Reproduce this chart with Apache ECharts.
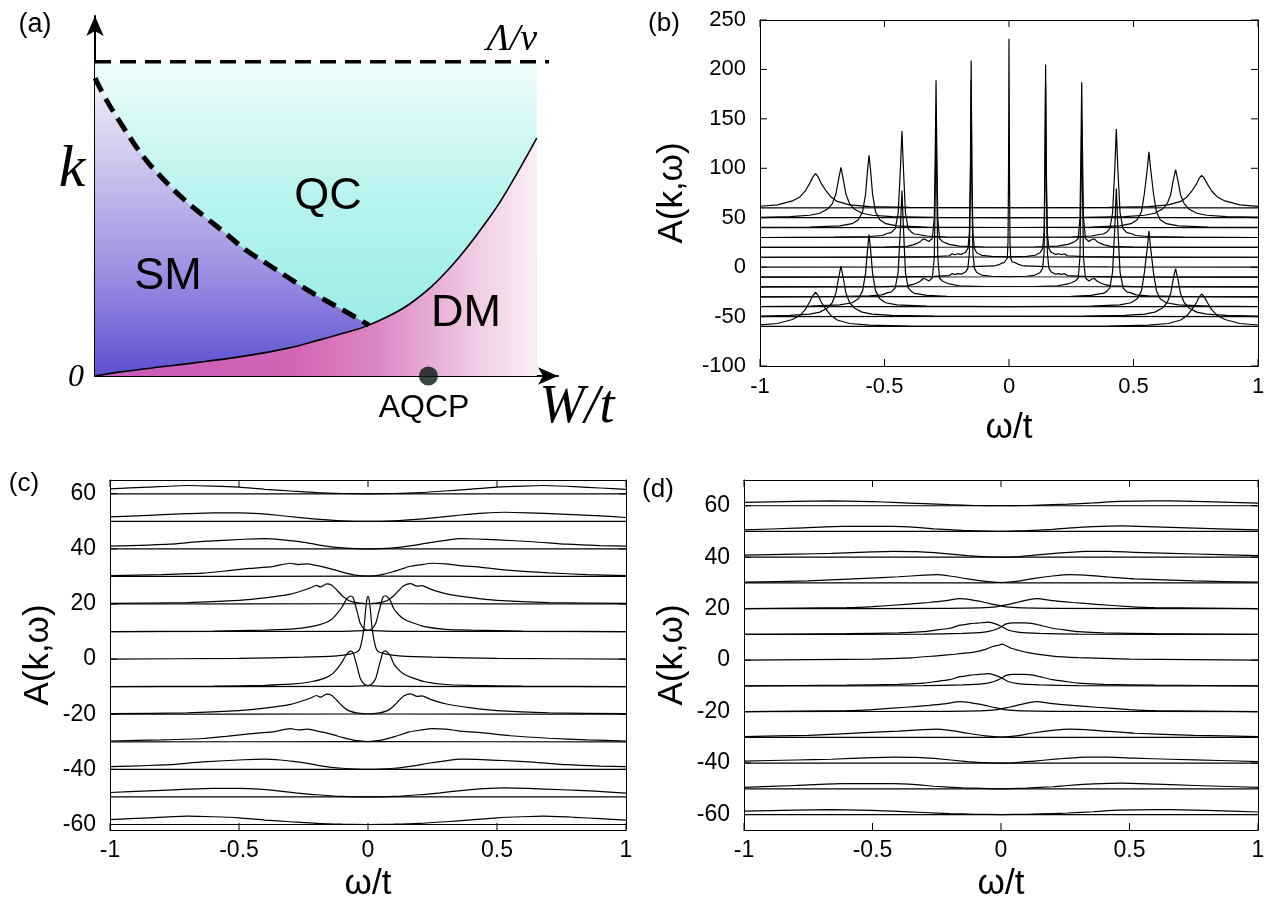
<!DOCTYPE html>
<html>
<head>
<meta charset="utf-8">
<script src="https://cdn.jsdelivr.net/npm/echarts@6/dist/echarts.min.js"></script>
<style>
html, body { margin: 0; padding: 0; background: #fff; }
#chart { width: 1271px; height: 907px; }
</style>
</head>
<body>
<div id="chart"></div>
<script>
const chart = echarts.init(document.getElementById('chart'));

// ---- (a) phase diagram: W/t along x, k along y (cutoff Lambda/v = 1) ----
const crossoverW = [0, 0.024, 0.059, 0.102, 0.146, 0.189, 0.232, 0.276, 0.319, 0.362, 0.406, 0.449, 0.492, 0.536, 0.579];
const crossoverK = [0.948, 0.879, 0.794, 0.699, 0.624, 0.561, 0.507, 0.454, 0.401, 0.359, 0.316, 0.274, 0.237, 0.2, 0.162];
const transitionW = [0, 0.059, 0.146, 0.232, 0.319, 0.406, 0.475, 0.536, 0.579, 0.666, 0.752, 0.839, 0.882, 0.934];
const transitionK = [0, 0.014, 0.03, 0.046, 0.064, 0.088, 0.115, 0.141, 0.162, 0.23, 0.347, 0.515, 0.618, 0.757];
const cutoffW = [0, 0.96];
const regionEndW = 0.934;
const aqcpW = 0.705;

// ---- waterfall offsets, shared by (b), (c), (d) ----
const offsets = [60, 50, 40, 30, 20, 10, 0, -10, -20, -30, -40, -50, -60];

// ---- (b) clean system: [omega/t, A] for |k| index 0..6 ----
const bK0 = [[-1,0],[-0.4,0.2],[-0.15,0.5],[-0.06,1.2],[-0.04,2.5],[-0.03,4],[-0.02,4.5],[-0.012,5.5],[-0.007,9],[-0.004,25],[-0.002,90],[0,231],[0.002,90],[0.004,25],[0.007,9],[0.012,5.5],[0.02,4.5],[0.03,4],[0.04,2.5],[0.06,1.2],[0.15,0.5],[0.4,0.2],[1,0]];
const bLow1 = [[-1,0],[-0.45,0.2],[-0.3,0.6],[-0.24,1.5],[-0.228,3.5],[-0.218,2.5],[-0.205,3.5],[-0.19,3],[-0.175,5],[-0.165,9],[-0.159,25],[-0.155,90],[-0.152,199],[-0.149,90],[-0.145,25],[-0.139,9],[-0.13,4.5],[-0.11,2],[-0.07,0.8],[0,0.3],[1,0]];
const bHigh1 = [[-1,0],[0,0.3],[0.072,0.8],[0.105,2],[0.125,4.5],[0.135,9],[0.141,25],[0.144,90],[0.147,195],[0.15,90],[0.154,25],[0.16,9],[0.17,5],[0.185,3],[0.2,3.5],[0.212,2.5],[0.222,3.5],[0.235,1.5],[0.3,0.6],[0.45,0.2],[1,0]];
const bLow2 = [[-1,0],[-0.5,0.3],[-0.41,1],[-0.385,2.5],[-0.37,4],[-0.355,6],[-0.345,8.5],[-0.335,8],[-0.322,6],[-0.308,9],[-0.3,30],[-0.296,100],[-0.293,169],[-0.29,100],[-0.286,30],[-0.279,9],[-0.268,6],[-0.255,4.5],[-0.24,3],[-0.2,1.2],[-0.1,0.4],[1,0]];
const bHigh2 = [[-1,0],[0.1,0.4],[0.195,1.2],[0.237,3],[0.252,4.5],[0.266,6],[0.278,9],[0.285,30],[0.289,100],[0.292,167],[0.295,100],[0.299,30],[0.307,9],[0.321,6],[0.333,8],[0.343,8.5],[0.353,6],[0.368,4],[0.383,2.5],[0.408,1],[0.5,0.3],[1,0]];
const bLow3 = [[-1,0],[-0.7,0.3],[-0.56,1],[-0.51,2],[-0.49,4],[-0.473,5],[-0.457,9],[-0.445,25],[-0.436,70],[-0.43,107.6],[-0.424,70],[-0.416,25],[-0.405,9],[-0.39,5],[-0.38,3.5],[-0.365,3],[-0.33,1.5],[-0.25,0.5],[1,0]];
const bHigh3 = [[-1,0],[0.25,0.5],[0.33,1.5],[0.362,3],[0.378,3.5],[0.39,5],[0.405,9],[0.416,25],[0.425,70],[0.431,109.6],[0.437,70],[0.446,25],[0.458,9],[0.473,5],[0.49,4],[0.51,2],[0.56,1],[0.7,0.3],[1,0]];
const bLow4 = [[-1,0.2],[-0.8,0.6],[-0.68,1.8],[-0.63,4],[-0.605,8],[-0.588,16],[-0.576,34],[-0.568,58],[-0.562,73],[-0.556,58],[-0.548,34],[-0.536,16],[-0.519,8],[-0.495,4],[-0.45,1.8],[-0.33,0.5],[0,0.1],[1,0]];
const bHigh4 = [[-1,0],[0,0.1],[0.33,0.5],[0.445,1.8],[0.49,4],[0.515,8],[0.532,16],[0.544,35],[0.556,61],[0.562,76.6],[0.568,61],[0.58,35],[0.592,16],[0.607,8],[0.632,4],[0.68,1.8],[0.8,0.6],[1,0.2]];
const bLow5 = [[-1,0.4],[-0.88,1.2],[-0.8,2.5],[-0.76,4.5],[-0.73,8.5],[-0.71,14],[-0.695,24],[-0.685,38],[-0.675,51],[-0.665,38],[-0.655,24],[-0.64,14],[-0.62,8.5],[-0.59,4.5],[-0.55,2.5],[-0.47,1.2],[-0.3,0.4],[0,0.1],[1,0]];
const bHigh5 = [[-1,0],[0,0.1],[0.3,0.4],[0.465,1.2],[0.545,2.5],[0.585,4.5],[0.615,8.5],[0.635,14],[0.649,23],[0.659,37],[0.669,48.6],[0.679,37],[0.689,23],[0.704,14],[0.724,8.5],[0.754,4.5],[0.794,2.5],[0.874,1.2],[1,0.5]];
const bLow6 = [[-1,1.6],[-0.93,3],[-0.87,7],[-0.84,11],[-0.817,17.5],[-0.8,25],[-0.787,31.5],[-0.777,34.6],[-0.767,31.5],[-0.755,25],[-0.737,18],[-0.715,11],[-0.69,6.5],[-0.64,3],[-0.56,1.3],[-0.4,0.4],[0,0.1],[1,0]];
const bHigh6 = [[-1,0],[0,0.1],[0.4,0.4],[0.56,1.3],[0.64,3],[0.69,6.5],[0.715,11],[0.737,18],[0.755,25],[0.764,30],[0.774,32.9],[0.784,30],[0.797,24],[0.814,17],[0.837,11],[0.867,7],[0.927,3],[1,1.5]];

// ---- (c) ----
const cK0 = [[-1,0],[-0.5,0.3],[-0.25,0.7],[-0.12,1.2],[-0.07,1.8],[-0.045,2.5],[-0.033,3.5],[-0.023,7],[-0.015,12],[-0.009,18],[-0.004,22],[0,22.8],[0.004,22],[0.009,18],[0.015,12],[0.023,7],[0.033,3.5],[0.045,2.5],[0.07,1.8],[0.12,1.2],[0.25,0.7],[0.5,0.3],[1,0]];
const cLow1 = [[-1,0],[-0.6,0.2],[-0.4,0.5],[-0.3,0.9],[-0.22,1.8],[-0.17,3],[-0.14,4.5],[-0.12,6.5],[-0.1,9],[-0.085,11.5],[-0.068,12.9],[-0.058,12.4],[-0.05,10],[-0.04,6.5],[-0.03,3],[-0.015,1],[0,0.4],[0.1,0.1],[1,0]];
const cHigh1 = [[-1,0],[-0.1,0.1],[0,0.4],[0.015,1],[0.03,3],[0.04,6.5],[0.05,10],[0.058,12.5],[0.068,13],[0.085,11.5],[0.1,8.3],[0.12,6],[0.14,4.5],[0.17,3.3],[0.22,1.8],[0.3,0.8],[0.4,0.5],[0.6,0.2],[1,0]];
const cLow2 = [[-1,0.2],[-0.7,0.5],[-0.5,1.3],[-0.4,2.2],[-0.3,3.6],[-0.25,5],[-0.22,6],[-0.2,6.8],[-0.185,6.2],[-0.16,7.3],[-0.14,6.8],[-0.12,5],[-0.1,3],[-0.075,1.3],[-0.04,0.4],[0,0.1],[1,0]];
const cHigh2 = [[-1,0],[0,0.1],[0.04,0.4],[0.075,1.3],[0.1,3],[0.12,5],[0.14,6.7],[0.165,7.4],[0.19,6.5],[0.21,6.7],[0.24,5.5],[0.3,3.8],[0.4,2.3],[0.5,1.3],[0.7,0.5],[1,0.2]];
const cLow3 = [[-1,0.3],[-0.8,0.7],[-0.64,1.2],[-0.55,2],[-0.46,2.9],[-0.37,3.6],[-0.3,4.8],[-0.27,4.3],[-0.235,4.6],[-0.2,4],[-0.17,3.4],[-0.13,2.4],[-0.1,1.6],[-0.05,0.5],[0,0.1],[1,0]];
const cHigh3 = [[-1,0],[0,0.1],[0.05,0.6],[0.1,1.8],[0.13,2.7],[0.16,3.6],[0.2,4.2],[0.25,4.8],[0.3,4.6],[0.35,4],[0.44,3.3],[0.55,2.2],[0.7,1.3],[0.85,0.7],[1,0.3]];
const cLow4 = [[-1,1],[-0.85,1.4],[-0.77,1.7],[-0.64,2.7],[-0.48,3.5],[-0.4,3.7],[-0.34,3.4],[-0.29,2.9],[-0.235,2.2],[-0.17,1.1],[-0.1,0.4],[0,0],[1,0]];
const cHigh4 = [[-1,0],[0,0],[0.1,0.4],[0.17,1.2],[0.24,2.3],[0.3,3.1],[0.36,3.7],[0.42,3.6],[0.5,3.3],[0.64,2.6],[0.77,1.7],[0.9,1.2],[1,1]];
const cLow5 = [[-1,1.6],[-0.85,2.2],[-0.7,2.8],[-0.6,3.1],[-0.5,3.1],[-0.42,2.8],[-0.35,2.2],[-0.28,1.5],[-0.2,0.8],[-0.1,0.2],[0,0],[1,0]];
const cHigh5 = [[-1,0],[0,0],[0.1,0.2],[0.2,0.8],[0.28,1.5],[0.36,2.3],[0.45,3],[0.53,3.3],[0.62,3.1],[0.75,2.6],[0.88,2.1],[1,1.4]];
const cLow6 = [[-1,1.8],[-0.85,2.4],[-0.7,3],[-0.6,2.8],[-0.5,2.4],[-0.4,1.6],[-0.3,1],[-0.2,0.4],[-0.1,0.1],[0,0],[1,0]];
const cHigh6 = [[-1,0],[0,0],[0.1,0.1],[0.2,0.4],[0.3,1],[0.4,1.7],[0.5,2.4],[0.6,2.8],[0.68,3],[0.8,2.6],[0.9,2.1],[1,1.6]];

// ---- (d) ----
const dK0 = [[-1,0],[-0.5,0.4],[-0.35,0.9],[-0.26,1.6],[-0.18,2.3],[-0.1,3.2],[-0.06,4.2],[-0.03,5.4],[-0.01,5.8],[0.005,6.2],[0.02,5.6],[0.04,4.6],[0.065,3.9],[0.1,3],[0.2,1.6],[0.3,1],[0.5,0.4],[1,0]];
const dLow1 = [[-1,0],[-0.6,0.3],[-0.4,0.6],[-0.3,1.1],[-0.26,1.6],[-0.2,2.4],[-0.16,3.6],[-0.14,3.8],[-0.12,4.2],[-0.09,4.4],[-0.05,4.8],[-0.03,4.4],[0,3.2],[0.03,1.6],[0.065,0.9],[0.15,0.4],[0.3,0.1],[1,0]];
const dHigh1 = [[-1,0],[-0.3,0.1],[-0.15,0.4],[-0.065,0.9],[-0.03,1.6],[0,2.9],[0.02,4.1],[0.05,4.5],[0.09,4.5],[0.12,4.3],[0.15,3.6],[0.2,2.4],[0.26,1.6],[0.3,1.1],[0.4,0.6],[0.6,0.3],[1,0]];
const dLow2 = [[-1,0],[-0.6,0.4],[-0.5,0.8],[-0.37,1.7],[-0.28,2.4],[-0.22,3],[-0.16,3.9],[-0.12,3.5],[-0.07,2.6],[-0.03,1.7],[0.02,0.7],[0.08,0.3],[0.2,0.1],[1,0]];
const dHigh2 = [[-1,0],[-0.2,0.1],[-0.08,0.3],[-0.02,0.7],[0.03,1.7],[0.07,2.6],[0.11,3.5],[0.14,3.9],[0.2,3.1],[0.28,2.4],[0.37,1.7],[0.5,0.8],[0.6,0.4],[1,0]];
const dLow3 = [[-1,0.3],[-0.75,0.8],[-0.53,1.8],[-0.4,2.4],[-0.3,3],[-0.25,3.2],[-0.2,2.7],[-0.13,1.6],[-0.06,0.6],[0,0.1],[0.1,0],[1,0]];
const dHigh3 = [[-1,0],[-0.1,0],[0,0.1],[0.06,0.6],[0.13,1.8],[0.2,2.7],[0.27,3.2],[0.33,3],[0.42,2.3],[0.52,1.6],[0.75,0.8],[1,0.3]];
const dLow4 = [[-1,0.8],[-0.8,1.2],[-0.66,1.5],[-0.5,2.1],[-0.42,2.3],[-0.33,2.2],[-0.26,1.8],[-0.13,0.6],[-0.05,0.1],[0,0],[1,0]];
const dHigh4 = [[-1,0],[0,0],[0.05,0.1],[0.13,0.8],[0.22,1.6],[0.33,2.3],[0.42,2.3],[0.52,1.9],[0.66,1.5],[0.85,1],[1,0.6]];
const dLow5 = [[-1,0.6],[-0.8,1.3],[-0.62,2],[-0.5,2],[-0.42,2],[-0.33,1.6],[-0.26,1],[-0.15,0.4],[-0.05,0.1],[0,0],[1,0]];
const dHigh5 = [[-1,0],[0,0],[0.1,0.3],[0.2,0.8],[0.26,1.3],[0.36,1.9],[0.47,2.2],[0.6,1.8],[0.66,1.6],[0.85,1],[1,0.6]];
const dLow6 = [[-1,1.3],[-0.8,1.7],[-0.66,1.9],[-0.5,1.6],[-0.42,1.3],[-0.3,0.8],[-0.2,0.4],[-0.1,0.1],[0,0],[1,0]];
const dHigh6 = [[-1,0],[0,0],[0.1,0.1],[0.2,0.4],[0.26,0.6],[0.36,1.1],[0.46,1.7],[0.6,1.9],[0.66,1.9],[0.8,1.6],[1,1.0]];

const bLow = [bK0, bLow1, bLow2, bLow3, bLow4, bLow5, bLow6];
const bHigh = [bK0, bHigh1, bHigh2, bHigh3, bHigh4, bHigh5, bHigh6];
const cLow = [cK0, cLow1, cLow2, cLow3, cLow4, cLow5, cLow6];
const cHigh = [cK0, cHigh1, cHigh2, cHigh3, cHigh4, cHigh5, cHigh6];
const dLow = [dK0, dLow1, dLow2, dLow3, dLow4, dLow5, dLow6];
const dHigh = [dK0, dHigh1, dHigh2, dHigh3, dHigh4, dHigh5, dHigh6];

const bTicks = [-100, -50, 0, 50, 100, 150, 200, 250];
const cdTicks = [-60, -40, -20, 0, 20, 40, 60];
const wTicks = [-1, -0.5, 0, 0.5, 1];

const SANS = 'Liberation Sans';
const SERIF = 'Liberation Serif';

function waterfall(low, high, axisIndex, smooth) {
  const out = [];
  offsets.forEach(function (off) {
    const k = Math.abs(off) / 10;
    const branches = k === 0 ? [low[0]] : [low[k], high[k]];
    branches.forEach(function (br) {
      out.push({
        type: 'line', xAxisIndex: axisIndex, yAxisIndex: axisIndex,
        data: br.map(function (p) { return [p[0], p[1] + off]; }),
        showSymbol: false, symbol: 'none', silent: true, smooth: smooth,
        lineStyle: { color: '#000', width: 1.2 }
      });
    });
  });
  return out;
}

// gnuplot-style mirrored inward ticks, placed through the panel's own axes
function tickMarks(axisIndex, yTicks, yMin, yMax) {
  const len = 7;
  const pts = wTicks.map(function (v) { return [v, yMin, 0]; })
    .concat(yTicks.map(function (v) { return [-1, v, 1]; }));
  return {
    type: 'custom', xAxisIndex: axisIndex, yAxisIndex: axisIndex, silent: true, clip: false, z: 6,
    data: pts,
    renderItem: function (params, api) {
      const st = { stroke: '#000', lineWidth: 1 };
      if (api.value(2) === 0) {
        const b = api.coord([api.value(0), yMin]);
        const t = api.coord([api.value(0), yMax]);
        return { type: 'group', children: [
          { type: 'line', shape: { x1: b[0], y1: b[1], x2: b[0], y2: b[1] - len }, style: st },
          { type: 'line', shape: { x1: t[0], y1: t[1], x2: t[0], y2: t[1] + len }, style: st }
        ] };
      }
      const l = api.coord([-1, api.value(1)]);
      const r = api.coord([1, api.value(1)]);
      return { type: 'group', children: [
        { type: 'line', shape: { x1: l[0], y1: l[1], x2: l[0] + len, y2: l[1] }, style: st },
        { type: 'line', shape: { x1: r[0], y1: r[1], x2: r[0] - len, y2: r[1] }, style: st }
      ] };
    }
  };
}

function frame(grid, yMin, yMax, yTicks, size, xMargin) {
  const line = { show: true, onZero: false, lineStyle: { color: '#000', width: 1 } };
  const none = { show: false };
  return {
    x: [
      { gridIndex: grid, type: 'value', min: -1, max: 1, position: 'bottom',
        axisLine: line, axisTick: none, splitLine: none,
        axisLabel: { color: '#000', fontSize: size, fontFamily: SANS, margin: xMargin, customValues: wTicks } },
      { gridIndex: grid, type: 'value', min: -1, max: 1, position: 'top',
        axisLine: line, axisTick: none, splitLine: none, axisLabel: none }
    ],
    y: [
      { gridIndex: grid, type: 'value', min: yMin, max: yMax, position: 'left',
        axisLine: line, axisTick: none, splitLine: none,
        axisLabel: { color: '#000', fontSize: size, fontFamily: SANS, margin: 14, customValues: yTicks } },
      { gridIndex: grid, type: 'value', min: yMin, max: yMax, position: 'right',
        axisLine: line, axisTick: none, splitLine: none, axisLabel: none }
    ]
  };
}

const arrowLine = { show: true, onZero: false, symbol: ['none', 'arrow'], symbolSize: [13, 20], lineStyle: { color: '#000', width: 2 } };
const aX = { gridIndex: 0, type: 'value', min: 0, max: 0.979, axisLine: arrowLine, axisTick: { show: false }, axisLabel: { show: false }, splitLine: { show: false } };
const aY = { gridIndex: 0, type: 'value', min: 0, max: 1.146, axisLine: arrowLine, axisTick: { show: false }, axisLabel: { show: false }, splitLine: { show: false } };

const fb = frame(1, -100, 250, bTicks, 22, 10);
const fc = frame(2, -62, 65, cdTicks, 23, 9);
const fd = frame(3, -66, 70, cdTicks, 23, 9);

function grad(x2, y2, stops) {
  return { type: 'linear', x: 0, y: 0, x2: x2, y2: y2,
    colorStops: stops.map(function (s) { return { offset: s[0], color: s[1] }; }) };
}
function zipPts(ws, ks) { return ws.map(function (w, i) { return [w, ks[i]]; }); }

const crossover = zipPts(crossoverW, crossoverK);
const transition = zipPts(transitionW, transitionK);

const aSeries = [
  { type: 'line', xAxisIndex: 0, yAxisIndex: 0, data: [[0, 1], [regionEndW, 1]], showSymbol: false, silent: true,
    lineStyle: { width: 0 }, areaStyle: { origin: 'start', opacity: 1,
      color: grad(0, 1, [[0, '#effcfb'], [0.45, '#b6f3ee'], [1, '#8eebe1']]) } },
  { type: 'line', xAxisIndex: 0, yAxisIndex: 0, data: crossover, smooth: 0.4, showSymbol: false, silent: true,
    lineStyle: { width: 0 }, areaStyle: { origin: 'start', opacity: 1,
      color: grad(0, 1, [[0, '#f2eef9'], [0.3, '#cbc3ee'], [0.65, '#9d90e2'], [1, '#5e4fd2']]) } },
  { type: 'line', xAxisIndex: 0, yAxisIndex: 0, data: transition, smooth: 0.4, showSymbol: false, silent: true,
    lineStyle: { width: 0 }, areaStyle: { origin: 'start', opacity: 1,
      color: grad(1, 0, [[0, '#c35cba'], [0.45, '#d264b4'], [0.65, '#dd8ac5'], [0.85, '#efc8e3'], [1, '#fbeef6']]) } },
  { type: 'line', xAxisIndex: 0, yAxisIndex: 0, data: crossover, smooth: 0.4, showSymbol: false, silent: true,
    lineStyle: { color: '#000', width: 5, type: [15, 8] } },
  { type: 'line', xAxisIndex: 0, yAxisIndex: 0, data: transition, smooth: 0.4, showSymbol: false, silent: true,
    lineStyle: { color: '#000', width: 1.6 } },
  { type: 'line', xAxisIndex: 0, yAxisIndex: 0, data: cutoffW.map(function (w) { return [w, 1]; }), showSymbol: false, silent: true,
    lineStyle: { color: '#000', width: 3.5, type: [16, 9] } },
  { type: 'scatter', xAxisIndex: 0, yAxisIndex: 0, data: [[aqcpW, 0]], symbolSize: 19, clip: false, silent: true, z: 10,
    itemStyle: { color: '#07170f' } }
];

function txt(x, y, text, size, extra, rot) {
  const el = { type: 'text', x: x, y: y, silent: true, z: 20,
    style: Object.assign({ text: text, fontSize: size, fontFamily: SANS, fill: '#000', align: 'center', verticalAlign: 'middle' }, extra || {}) };
  if (rot) el.rotation = rot;
  return el;
}
const ital = { fontFamily: SERIF, fontStyle: 'italic' };

const option = {
  animation: false,
  backgroundColor: '#fff',
  grid: [
    { left: 95, top: 16, width: 463, height: 360 },
    { left: 760, top: 20, width: 498, height: 346 },
    { left: 110, top: 480, width: 516, height: 350 },
    { left: 744, top: 480, width: 514, height: 350 }
  ],
  xAxis: [aX].concat(fb.x, fc.x, fd.x),
  yAxis: [aY].concat(fb.y, fc.y, fd.y),
  series: aSeries.concat(
    waterfall(bLow, bHigh, 1, false),
    waterfall(cLow, cHigh, 3, 0.2),
    waterfall(dLow, dHigh, 5, 0.2),
    [tickMarks(1, bTicks, -100, 250), tickMarks(3, cdTicks, -62, 65), tickMarks(5, cdTicks, -66, 70)]
  ),
  graphic: [
    txt(35, 25, '(a)', 27),
    txt(512, 40, 'Λ/v', 38, ital),
    txt(72, 170, 'k', 60, ital),
    txt(76, 378, '0', 32, ital),
    txt(328, 197, 'QC', 45),
    txt(168, 277, 'SM', 45),
    txt(466, 314, 'DM', 45),
    txt(424, 408, 'AQCP', 32),
    txt(577, 408, 'W/t', 54, ital),

    txt(664, 24, '(b)', 26),
    txt(672, 193, 'A(k,ω)', 35, null, Math.PI / 2),
    txt(1009, 428, 'ω/t', 35),

    txt(24, 484, '(c)', 26),
    txt(38, 655, 'A(k,ω)', 35, null, Math.PI / 2),
    txt(368, 884, 'ω/t', 35),

    txt(658, 490, '(d)', 26),
    txt(672, 655, 'A(k,ω)', 35, null, Math.PI / 2),
    txt(1001, 884, 'ω/t', 35)
  ]
};

chart.setOption(option);
</script>
</body>
</html>
